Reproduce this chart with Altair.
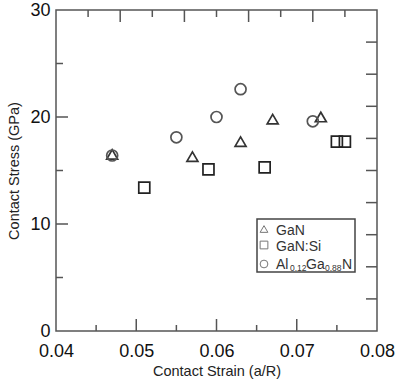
import altair as alt
import pandas as pd

# ---- data ----
gan_x = [0.047, 0.057, 0.063, 0.067, 0.073]
gan_y = [16.5, 16.3, 17.7, 19.8, 20.0]
si_x = [0.051, 0.059, 0.066, 0.075, 0.076]
si_y = [13.4, 15.1, 15.3, 17.7, 17.7]
al_x = [0.047, 0.055, 0.060, 0.063, 0.072]
al_y = [16.4, 18.1, 20.0, 22.6, 19.6]
series = ["GaN", "GaN:Si", "AlGaN"]

x_labels = [0.04, 0.05, 0.06, 0.07, 0.08]
y_labels = [0, 10, 20, 30]
bottom_major = [0.05, 0.06, 0.07]
bottom_minor = [0.045, 0.055, 0.065, 0.075]
top_long = [0.048, 0.056, 0.064, 0.072]
top_short = [0.044, 0.052, 0.060, 0.068, 0.076]
left_major = [10, 20]
left_minor = [5, 15, 25]
right_ticks = [3, 6, 9, 12, 15, 18, 21, 24, 27]

W, H = 321, 321
FONT = "Liberation Sans"

rows = []
for name, xs_, ys_ in [(series[0], gan_x, gan_y), (series[1], si_x, si_y), (series[2], al_x, al_y)]:
    for a, b in zip(xs_, ys_):
        rows.append({"series": name, "strain": a, "stress": b})
df = pd.DataFrame(rows)

xs = alt.Scale(domain=[0.04, 0.08], nice=False, zero=False)
ys = alt.Scale(domain=[0, 30], nice=False)

x_axis = alt.Axis(values=x_labels, format=".2f", domain=False, ticks=False, tickSize=0,
                  grid=False, labelFontSize=18, labelFont=FONT, labelColor="#111",
                  labelPadding=11, titleFont=FONT, titleFontSize=14.5, titleFontWeight="normal",
                  titleColor="#222", titlePadding=4, labelFlush=False)
y_axis = alt.Axis(values=y_labels, domain=False, ticks=False, tickSize=0, grid=False,
                  labelFontSize=18, labelFont=FONT, labelColor="#111", labelPadding=6,
                  titleFont=FONT, titleFontSize=14.5, titleFontWeight="normal",
                  titleColor="#222", titlePadding=8, labelFlush=False)
X_TITLE = "Contact Strain (a/R)"
Y_TITLE = "Contact Stress (GPa)"

points = alt.Chart(df).mark_point(filled=False, size=121, strokeWidth=1.7, opacity=1).encode(
    x=alt.X("strain:Q", scale=xs, title=X_TITLE, axis=x_axis),
    y=alt.Y("stress:Q", scale=ys, title=Y_TITLE, axis=y_axis),
    shape=alt.Shape("series:N", scale=alt.Scale(domain=series, range=["triangle-up", "square", "circle"]), legend=None),
    color=alt.Color("series:N", scale=alt.Scale(domain=series, range=["#333333", "#222222", "#555555"]), legend=None),
)


def vrule(vals, y0, y1):
    return alt.Chart(pd.DataFrame({"v": vals})).mark_rule(color="#555", strokeWidth=1.5).encode(
        x=alt.X("v:Q", scale=xs, title=X_TITLE, axis=x_axis), y=alt.value(y0), y2=alt.value(y1))


def hrule(vals, x0, x1):
    return alt.Chart(pd.DataFrame({"v": vals})).mark_rule(color="#555", strokeWidth=1.5).encode(
        y=alt.Y("v:Q", scale=ys, title=Y_TITLE, axis=y_axis), x=alt.value(x0), x2=alt.value(x1))


ticks = [
    vrule(bottom_major, H, H - 12),
    vrule(bottom_minor, H, H - 6),
    vrule(top_long, 0, 12),
    vrule(top_short, 0, 7),
    hrule(left_major, 0, 12),
    hrule(left_minor, 0, 7),
    hrule(right_ticks, W, W - 11),
]

# ---- legend (drawn by hand for subscripts) ----
one = pd.DataFrame({"k": [0]})
box = alt.Chart(one).mark_rect(fill="white", stroke="#444", strokeWidth=1.5).encode(
    x=alt.value(201), x2=alt.value(299), y=alt.value(209), y2=alt.value(262))

leg_shapes = ["triangle-up", "square", "circle"]
leg_sym_y = [219, 235, 254]
leg_syms = [
    alt.Chart(one).mark_point(shape=s, filled=False, size=60, strokeWidth=1, color="#777", opacity=1).encode(
        x=alt.value(208), y=alt.value(yy))
    for s, yy in zip(leg_shapes, leg_sym_y)
]


def txt(t, x, y, size=14):
    return alt.Chart(one).mark_text(text=t, align="left", baseline="alphabetic", font=FONT,
                                    fontSize=size, color="#333").encode(x=alt.value(x), y=alt.value(y))


leg_text = [
    txt("GaN", 220, 225),
    txt("GaN:Si", 220, 241),
    txt("Al", 220, 259),
    txt("0.12", 234, 261, 8.5),
    txt("Ga", 250, 259),
    txt("0.88", 269, 261, 8.5),
    txt("N", 286, 259),
]

chart = alt.layer(points, *ticks, box, *leg_syms, *leg_text).properties(
    width=W, height=H,
    autosize=alt.AutoSizeParams(type="none"),
    padding={"left": 56, "top": 10, "right": 19, "bottom": 49},
    background="white",
).configure_view(stroke="#555", strokeWidth=1.5)

chart.save("out.html", embed_options={"renderer": "svg", "actions": False})
